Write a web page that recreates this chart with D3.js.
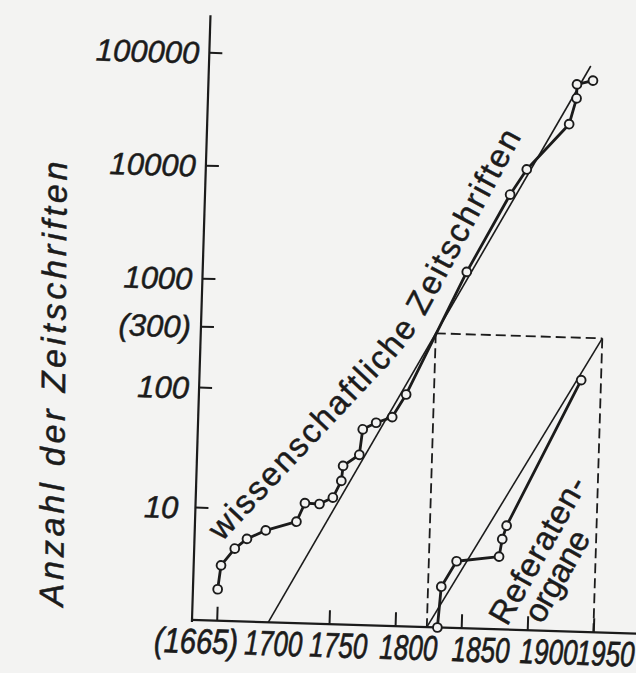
<!DOCTYPE html>
<html>
<head>
<meta charset="utf-8">
<script src="https://cdn.jsdelivr.net/npm/d3@7"></script>
<style>
  html, body { margin: 0; padding: 0; background: #f3f3f2; }
  svg { display: block; }
</style>
</head>
<body>
<svg id="chart" width="636" height="673"></svg>
<script>
// Growth of scientific journals and of abstract journals (log scale)
const journalYears  = [1665, 1667, 1677, 1686, 1700, 1723, 1729, 1740, 1750, 1756, 1757, 1769, 1771, 1781, 1793, 1803, 1846, 1877, 1889, 1920, 1925, 1925, 1937];
const journalCounts = [1.9, 3.1, 4.4, 5.4, 6.5, 7.9, 11.5, 11.4, 13, 18, 24, 30, 49, 56, 63, 98, 1340, 6650, 11200, 28900, 49200, 65400, 71200];

const abstractYears  = [1832, 1834, 1845, 1877, 1879, 1882, 1935];
const abstractCounts = [1, 2.3, 3.9, 4.4, 6.3, 8.3, 140];

// exponential trend lines
const trendYears  = [1704, 1935];
const trendCounts = [1, 95800];
const abstractTrendYears  = [1824, 1950];
const abstractTrendCounts = [1, 300];

// dashed reference box: journals reach 300 in 1824, abstract journals in 1950
const markYear = 1824, markCount = 300, markEndYear = 1950;

const yTickValues = [10, 100, 300, 1000, 10000, 100000];
const yTickLabels = ["10", "100", "(300)", "1000", "10000", "100000"];
const xTickValues = [1665, 1750, 1800, 1850, 1900, 1950];
const xLabelYears = [1665, 1700, 1750, 1800, 1850, 1900, 1950];
const xLabelTexts = ["(1665)", "1700", "1750", "1800", "1850", "1900", "1950"];

const ink = "#1b1b1b";
const paper = "#f3f3f2";
const font = "'Liberation Sans', Arial, sans-serif";

const svg = d3.select("#chart");

// plot frame: origin at the axis corner, slightly turned as on the printed page
const frame = svg.append("g").attr("transform", "translate(192,620) rotate(1.75)");

const x = d3.scaleLinear().domain([1665, 1950]).range([24.7, 401.5]);
const y = d3.scaleLog()
  .domain([1, 10, 100, 300, 1000, 10000, 100000])
  .range([0, -113, -233, -294, -342, -455, -568]);

// text gets a thin outline of its own colour so it prints as heavy as the figure lines
function inked(sel, w) {
  return sel.attr("fill", ink).attr("stroke", ink).attr("stroke-width", w).attr("paint-order", "stroke");
}

// axes
frame.append("line").attr("x1", 0).attr("y1", 2).attr("x2", 0).attr("y2", -605)
  .attr("stroke", ink).attr("stroke-width", 2.2);
frame.append("line").attr("x1", -1).attr("y1", 0).attr("x2", 470).attr("y2", 0)
  .attr("stroke", ink).attr("stroke-width", 2.2);

const yAxis = d3.axisLeft(y).tickValues(yTickValues).tickSizeInner(-13).tickSizeOuter(0)
  .tickPadding(10).tickFormat((d, i) => yTickLabels[i]);
const yAxisG = frame.append("g").call(yAxis);
yAxisG.select(".domain").remove();
yAxisG.selectAll(".tick line").attr("stroke", ink).attr("stroke-width", 2);
inked(yAxisG.selectAll(".tick text"), 0.5)
  .attr("font-family", font)
  .attr("font-style", "italic")
  .attr("font-size", 31)
  .attr("dy", "0.36em")
  .attr("x", d => d === 10 ? -17 : -10);

const xAxis = d3.axisBottom(x).tickValues(xTickValues).tickSizeInner(-14).tickSizeOuter(0).tickFormat("");
const xAxisG = frame.append("g").call(xAxis);
xAxisG.select(".domain").remove();
xAxisG.selectAll(".tick line").attr("stroke", ink).attr("stroke-width", 2);

// year labels below the axis (condensed italic figures)
const xLabelShift = [-20, 11, 10, 14, 20, 22, 13];
inked(frame.append("g").selectAll("text")
  .data(xLabelYears)
  .join("text"), 0.7)
  .attr("x", (d, i) => x(d) + xLabelShift[i])
  .attr("y", 33)
  .attr("text-anchor", "middle")
  .attr("font-family", font)
  .attr("font-style", "italic")
  .attr("font-size", 35)
  .attr("textLength", (d, i) => i === 0 ? 84 : 58)
  .attr("lengthAdjust", "spacingAndGlyphs")
  .text((d, i) => xLabelTexts[i]);

// dashed reference box
const boxG = frame.append("g").attr("fill", "none").attr("stroke", ink)
  .attr("stroke-width", 1.8).attr("stroke-dasharray", "10,5");
boxG.append("line").attr("x1", x(markYear)).attr("y1", y(markCount)).attr("x2", x(markEndYear)).attr("y2", y(markCount));
boxG.append("line").attr("x1", x(markYear)).attr("y1", y(markCount)).attr("x2", x(markYear)).attr("y2", 0);
boxG.append("line").attr("x1", x(markEndYear)).attr("y1", y(markCount)).attr("x2", x(markEndYear)).attr("y2", 0);

// trend lines
const line = d3.line().x(d => x(d[0])).y(d => y(d[1]));
frame.append("path")
  .attr("d", line(d3.zip(trendYears, trendCounts)))
  .attr("fill", "none").attr("stroke", ink).attr("stroke-width", 1.6);
frame.append("path")
  .attr("d", line(d3.zip(abstractTrendYears, abstractTrendCounts)))
  .attr("fill", "none").attr("stroke", ink).attr("stroke-width", 1.6);

// observed series
function drawSeries(years, counts) {
  const pts = d3.zip(years, counts);
  frame.append("path")
    .attr("d", line(pts))
    .attr("fill", "none").attr("stroke", ink).attr("stroke-width", 2.8)
    .attr("stroke-linejoin", "round");
  frame.append("g").selectAll("circle")
    .data(pts)
    .join("circle")
    .attr("cx", d => x(d[0]))
    .attr("cy", d => y(d[1]))
    .attr("r", 4.4)
    .attr("fill", paper)
    .attr("stroke", ink)
    .attr("stroke-width", 1.9);
}
drawSeries(journalYears, journalCounts);
drawSeries(abstractYears, abstractCounts);

// axis title
inked(svg.append("text"), 0.5)
  .attr("transform", "translate(65,384) rotate(-89.5)")
  .attr("text-anchor", "middle")
  .attr("font-family", font)
  .attr("font-style", "italic")
  .attr("font-size", 34)
  .attr("textLength", 445)
  .attr("lengthAdjust", "spacing")
  .text("Anzahl der Zeitschriften");

// curve labels
const defs = svg.append("defs");
defs.append("path").attr("id", "journalLabelPath")
  .attr("d", "M222,542 L391,362 Q414,337 431,305 L529,123");
defs.append("path").attr("id", "abstractLabelPath1")
  .attr("d", "M507,627 L589,482");
defs.append("path").attr("id", "abstractLabelPath2")
  .attr("d", "M542,625 L594,533");

function curveLabel(pathId, txt, len, size) {
  inked(svg.append("text"), 0.45)
    .attr("font-family", font)
    .attr("font-size", size)
    .append("textPath")
    .attr("href", "#" + pathId)
    .attr("textLength", len)
    .attr("lengthAdjust", "spacing")
    .text(txt);
}
curveLabel("journalLabelPath", "wissenschaftliche Zeitschriften", 508, 33);
curveLabel("abstractLabelPath1", "Referaten-", 164, 33);
curveLabel("abstractLabelPath2", "organe", 100, 33);
</script>
</body>
</html>
